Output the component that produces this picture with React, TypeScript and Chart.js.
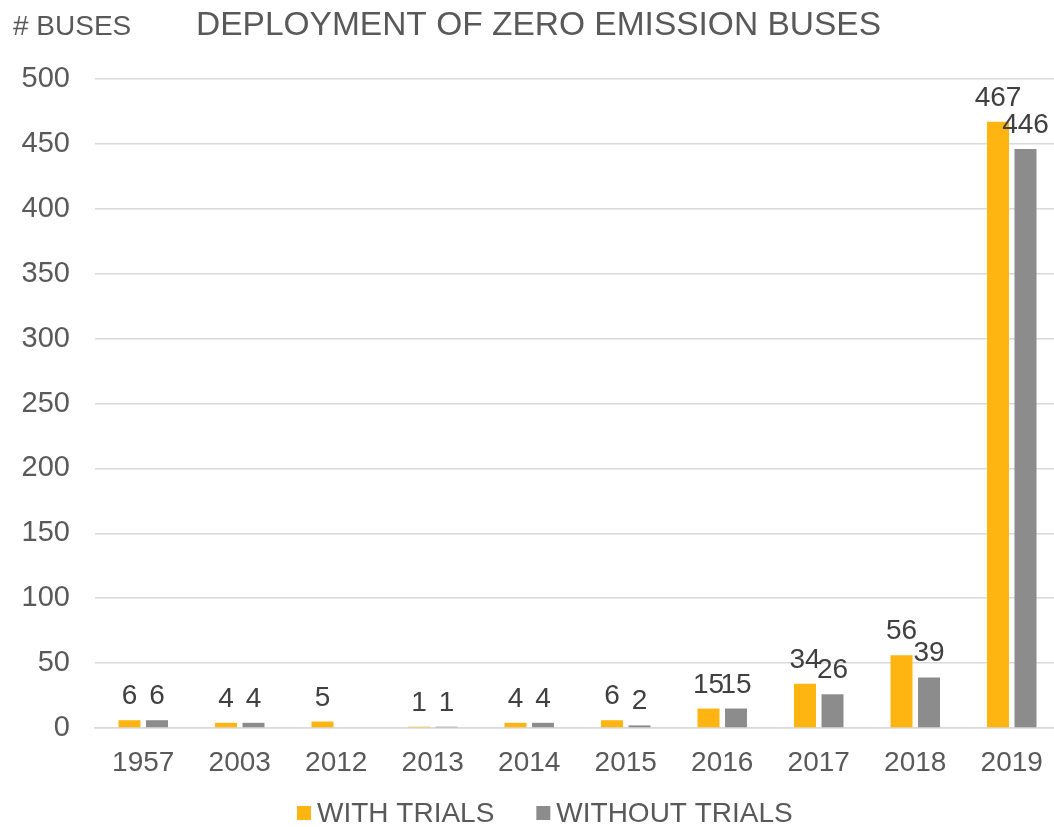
import React, { useEffect, useRef } from "react";
import { Chart, registerables } from "chart.js";

Chart.register(...registerables);

const categories = ["1957", "2003", "2012", "2013", "2014", "2015", "2016", "2017", "2018", "2019"];
const withTrials = [6, 4, 5, 1, 4, 6, 15, 34, 56, 467];
const withoutTrials: (number | null)[] = [6, 4, null, 1, 4, 2, 15, 26, 39, 446];
const seriesNames = ["WITH TRIALS", "WITHOUT TRIALS"];
const seriesColors = ["#FFB511", "#8C8C8C"];
const titleText = "DEPLOYMENT OF ZERO EMISSION BUSES";
const yAxisTitle = "# BUSES";

const FONT = "'Liberation Sans', Arial, sans-serif";

const overlayPlugin = {
  id: "overlay",
  afterDatasetsDraw(chart: any) {
    const ctx = chart.ctx;
    ctx.save();
    // data labels
    ctx.fillStyle = "#404040";
    ctx.font = `28px ${FONT}`;
    ctx.textAlign = "center";
    ctx.textBaseline = "alphabetic";
    chart.data.datasets.forEach((ds: any, di: number) => {
      const meta = chart.getDatasetMeta(di);
      meta.data.forEach((bar: any, i: number) => {
        const v = ds.data[i];
        if (v === null || v === undefined) return;
        ctx.fillText(String(v), bar.x, bar.y - 16);
      });
    });
    // titles
    ctx.fillStyle = "#595959";
    ctx.textAlign = "left";
    ctx.font = `28px ${FONT}`;
    ctx.fillText(yAxisTitle, 13, 35);
    ctx.font = `33.5px ${FONT}`;
    ctx.fillText(titleText, 196, 35);
    // legend
    ctx.font = `28px ${FONT}`;
    let x = 297;
    seriesNames.forEach((name, i) => {
      ctx.fillStyle = seriesColors[i];
      ctx.fillRect(x, 806, 14, 14);
      ctx.fillStyle = "#595959";
      ctx.fillText(name, x + 20, 822);
      x += 20 + ctx.measureText(name).width + 42;
    });
    ctx.restore();
  },
};

export default function App() {
  const ref = useRef<HTMLCanvasElement>(null);
  useEffect(() => {
    if (!ref.current) return;
    const chart = new Chart(ref.current, {
      type: "bar",
      data: {
        labels: categories,
        datasets: [
          { label: seriesNames[0], data: withTrials, backgroundColor: seriesColors[0] },
          { label: seriesNames[1], data: withoutTrials, backgroundColor: seriesColors[1] },
        ],
      },
      options: {
        responsive: false,
        animation: false,
        devicePixelRatio: 1,
        datasets: { bar: { categoryPercentage: 0.57, barPercentage: 0.8 } },
        layout: { padding: { top: 79, right: 2, left: 0, bottom: 0 } },
        plugins: { legend: { display: false }, title: { display: false }, tooltip: { enabled: false } },
        scales: {
          x: {
            grid: { display: false },
            border: { color: "#D9D9D9", width: 1.5 },
            ticks: { color: "#595959", font: { family: FONT, size: 28 }, padding: 10 },
            afterFit: (s: any) => { s.height = 99; },
          },
          y: {
            min: 0,
            max: 500,
            ticks: { stepSize: 50, color: "#595959", font: { family: FONT, size: 29 }, padding: 25 },
            grid: { color: "#D9D9D9", lineWidth: 1.5, drawTicks: false },
            border: { display: false },
            afterFit: (s: any) => { s.width = 95; },
          },
        },
      },
      plugins: [overlayPlugin],
    });
    return () => chart.destroy();
  }, []);
  return (
    <div style={{ position: "absolute", left: 0, top: 0, width: 1054, height: 827, overflow: "hidden", background: "#fff" }}>
      <canvas ref={ref} width={1062} height={827} />
    </div>
  );
}
